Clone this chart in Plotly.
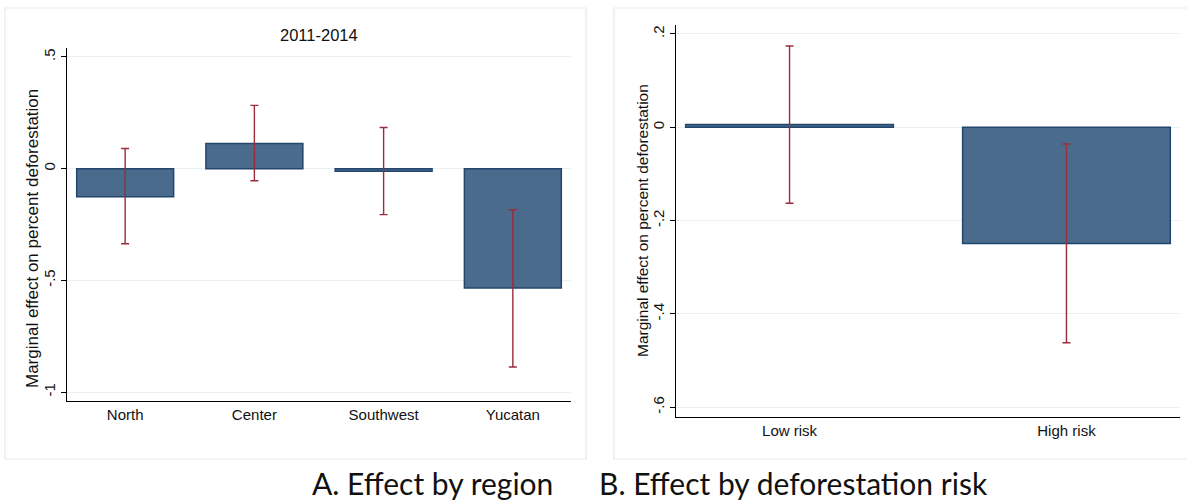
import plotly.graph_objects as go

W, H = 1187, 502

# Panel A data
regions = ["North", "Center", "Southwest", "Yucatan"]
region_est = [-0.126, 0.112, -0.012, -0.534]
region_lo = [-0.336, -0.054, -0.206, -0.888]
region_hi = [0.090, 0.283, 0.184, -0.184]
a_ticks = [0.5, 0, -0.5, -1]
a_ticktext = [".5", "0", "-.5", "-1"]

# Panel B data
risks = ["Low risk", "High risk"]
risk_est = [0.006, -0.249]
risk_lo = [-0.163, -0.462]
risk_hi = [0.174, -0.036]
b_ticks = [0.2, 0, -0.2, -0.4, -0.6]
b_ticktext = [".2", "0", "-.2", "-.4", "-.6"]

BAR_FILL = "#4a6b8c"
BAR_LINE = "#23476c"
ERR = "#9b2d3a"
GRID = "#e8f0f2"
BOX = "#e3ecee"
FONT = "Liberation Sans, Arial, sans-serif"


def px_x(p):
    return p / W


def px_y(p):
    return 1 - p / H


fig = go.Figure()

fig.add_trace(go.Bar(
    x=list(range(len(regions))), y=region_est, width=0.75,
    marker=dict(color=BAR_FILL, line=dict(color=BAR_LINE, width=1.5)),
    error_y=dict(type="data", symmetric=False,
                 array=[h - e for h, e in zip(region_hi, region_est)],
                 arrayminus=[e - l for e, l in zip(region_est, region_lo)],
                 color=ERR, thickness=1.4, width=4),
    xaxis="x", yaxis="y", showlegend=False))

fig.add_trace(go.Bar(
    x=list(range(len(risks))), y=risk_est, width=0.75,
    marker=dict(color=BAR_FILL, line=dict(color=BAR_LINE, width=1.5)),
    error_y=dict(type="data", symmetric=False,
                 array=[h - e for h, e in zip(risk_hi, risk_est)],
                 arrayminus=[e - l for e, l in zip(risk_est, risk_lo)],
                 color=ERR, thickness=1.4, width=4),
    xaxis="x2", yaxis="y2", showlegend=False))

axis_common = dict(showline=True, linecolor="#000", linewidth=1.2,
                   tickfont=dict(family=FONT, size=15, color="#111"))

fig.update_layout(
    width=W, height=H,
    margin=dict(l=0, r=0, t=0, b=0),
    paper_bgcolor="white", plot_bgcolor="white",
    font=dict(family=FONT, color="#111"),
    xaxis=dict(domain=[px_x(67), px_x(571)], range=[-0.45, 3.45],
               tickvals=list(range(len(regions))), ticktext=regions,
               ticks="", showgrid=False, zeroline=False, anchor="y",
               **axis_common),
    yaxis=dict(domain=[px_y(401), px_y(48)], range=[-1.04, 0.54],
               tickvals=a_ticks, ticktext=a_ticktext, tickangle=-90,
               ticks="outside", ticklen=5, tickcolor="#000",
               showgrid=True, gridcolor=GRID, gridwidth=1.3,
               zeroline=False, anchor="x", **axis_common),
    xaxis2=dict(domain=[px_x(676), px_x(1180)], range=[-0.41, 1.41],
                tickvals=list(range(len(risks))), ticktext=risks,
                ticks="", showgrid=False, zeroline=False, anchor="y2",
                **axis_common),
    yaxis2=dict(domain=[px_y(417), px_y(25)], range=[-0.621, 0.219],
                tickvals=b_ticks, ticktext=b_ticktext, tickangle=-90,
                ticks="outside", ticklen=5, tickcolor="#000",
                showgrid=True, gridcolor=GRID, gridwidth=1.3,
                zeroline=False, anchor="x2", **axis_common),
)

shapes = [
    dict(type="rect", xref="paper", yref="paper",
         x0=px_x(5), x1=px_x(586), y0=px_y(459), y1=px_y(8),
         line=dict(color=BOX, width=1.2), fillcolor="rgba(0,0,0,0)", layer="below"),
    dict(type="rect", xref="paper", yref="paper",
         x0=px_x(614), x1=px_x(1190), y0=px_y(459), y1=px_y(8),
         line=dict(color=BOX, width=1.2), fillcolor="rgba(0,0,0,0)", layer="below"),
]
fig.update_layout(shapes=shapes)

ann = [
    dict(text="2011-2014", x=px_x(319), y=px_y(35), xref="paper", yref="paper",
         showarrow=False, font=dict(family=FONT, size=16.5, color="#111"),
         xanchor="center", yanchor="middle"),
    dict(text="Marginal effect on percent deforestation", x=px_x(32), y=px_y(239),
         xref="paper", yref="paper", showarrow=False, textangle=-90,
         font=dict(family=FONT, size=17, color="#111"),
         xanchor="center", yanchor="middle"),
    dict(text="Marginal effect on percent deforestation", x=px_x(642), y=px_y(221),
         xref="paper", yref="paper", showarrow=False, textangle=-90,
         font=dict(family=FONT, size=15.5, color="#111"),
         xanchor="center", yanchor="middle"),
    dict(text="A. Effect by region", x=px_x(432), y=px_y(483), xref="paper", yref="paper",
         showarrow=False, font=dict(family="Lato, Carlito, sans-serif", size=30, color="#111"),
         xanchor="center", yanchor="middle"),
    dict(text="B. Effect by deforestation risk", x=px_x(793), y=px_y(483), xref="paper", yref="paper",
         showarrow=False, font=dict(family="Lato, Carlito, sans-serif", size=30, color="#111"),
         xanchor="center", yanchor="middle"),
]
fig.update_layout(annotations=ann)

fig.write_html("out.html")
